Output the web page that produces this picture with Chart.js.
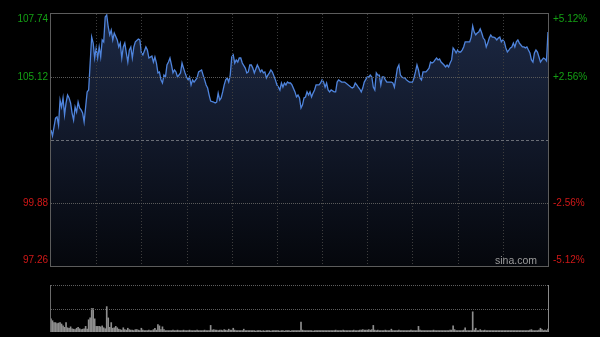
<!DOCTYPE html>
<html>
<head>
<meta charset="utf-8">
<script src="https://cdn.jsdelivr.net/npm/chart.js@4.4.0/dist/chart.umd.min.js"></script>
<style>
  html, body { margin: 0; padding: 0; background: #000; }
  #wrap { position: relative; width: 600px; height: 337px; background: #000; overflow: hidden; }
  canvas { position: absolute; left: 0; }
  #priceChart { top: 0; }
  #volChart { top: 275px; }
</style>
</head>
<body>
<div id="wrap">
  <canvas id="priceChart" width="600" height="275"></canvas>
  <canvas id="volChart" width="600" height="62"></canvas>
</div>
<script>
// ---- data (minutes from open, HK session 330 min) ----
const prevClose = 102.50;
const priceMin = 97.26;
const priceMax = 107.74;
const leftTickValues = [107.74, 105.12, 99.88, 97.26];
const leftTickLabels = ['107.74', '105.12', '99.88', '97.26'];
const rightTickLabels = ['+5.12%', '+2.56%', '-2.56%', '-5.12%'];
const gridMinutes = [30, 60, 90, 120, 150, 180, 210, 240, 270, 300];
const sessionMinutes = 330;

const minutes = [
  0,1,3,4,5,6,7,8,9,10,11,12,13,14,15,16,17,18,19,20,21,22,23,24,25,26,27,28,29,30,
  31,32,33,34,35,36,37,38,39,40,41,42,44,45,46,47,48,49,50,51,52,53,54,55,56,58,59,60,61,63,
  64,65,67,68,69,70,71,72,73,74,75,76,77,78,79,80,81,82,83,84,86,87,88,89,90,91,92,93,94,95,
  97,98,100,101,102,103,104,105,106,108,109,110,111,112,113,114,115,116,117,118,119,120,121,122,123,124,125,126,127,129,
  130,131,132,133,134,135,137,138,139,140,141,142,143,144,145,146,147,149,150,151,152,153,154,155,156,157,158,159,160,162,
  163,164,165,166,167,168,169,170,171,172,173,174,175,176,178,179,180,181,182,183,184,185,186,188,189,190,191,193,195,199,
  200,201,202,203,204,205,206,207,208,210,211,212,213,214,215,216,217,218,219,220,221,222,223,224,226,227,228,229,230,231,
  232,233,234,235,236,237,238,240,241,242,243,244,245,246,247,248,249,250,251,252,253,254,255,256,257,258,259,261,262,263,
  264,265,266,267,268,269,270,271,272,273,274,275,276,278,279,280,281,282,283,284,285,286,287,288,289,290,291,292,293,294,
  295,296,297,298,299,300,301,302,303,304,305,306,307,308,309,310,311,312,313,314,315,316,317,318,319,320,321,322,323,324,
  325,326,327,328,329,330
];
const prices = [
  102.92,102.67,103.41,103.46,103.12,104.16,103.87,104.25,103.54,104.04,104.37,104.25,104.04,103.62,103.33,103.87,103.66,104.08,103.83,103.75,103.62,103.25,103.87,104.50,104.58,105.70,106.78,106.53,105.91,106.33,
  105.91,106.37,105.95,106.66,106.58,107.62,107.70,107.20,106.87,107.07,106.66,106.95,106.66,106.37,106.53,105.91,106.37,106.53,106.12,105.74,106.24,106.37,105.91,106.37,106.58,106.70,106.66,106.12,106.04,106.37,
  106.24,105.91,105.99,105.74,105.95,105.70,105.29,105.33,105.00,104.87,105.20,105.12,105.62,105.74,105.91,105.62,105.29,105.41,105.33,105.12,105.29,105.70,105.49,105.29,105.12,105.00,105.12,104.79,105.00,104.91,
  105.08,105.33,105.41,105.20,105.00,104.79,104.66,104.37,104.12,104.08,104.04,104.08,104.45,104.16,104.25,104.50,104.79,105.00,105.08,104.91,105.20,105.95,106.04,105.70,105.83,105.74,105.91,105.91,105.70,105.49,
  105.29,105.33,105.62,105.62,105.49,105.29,105.62,105.49,105.33,105.41,105.29,105.33,105.08,105.20,105.29,105.41,105.33,105.00,104.79,104.70,104.58,104.87,104.70,104.87,104.79,104.91,104.87,104.87,104.79,104.50,
  104.29,104.37,104.25,103.83,103.96,104.25,104.29,104.50,104.37,104.50,104.29,104.45,104.58,104.79,104.79,104.87,105.00,104.91,104.70,104.87,104.58,104.50,104.58,104.50,104.50,104.91,105.00,104.91,104.91,104.70,
  104.66,104.70,104.87,104.79,104.70,104.62,104.50,104.66,104.91,105.12,105.12,105.20,105.12,104.70,104.58,105.29,105.20,105.20,104.79,105.12,105.12,105.00,104.91,104.91,104.91,104.87,104.70,105.08,105.49,105.62,
  105.20,105.12,105.08,105.08,105.00,104.95,104.91,104.91,105.08,105.33,105.62,105.41,105.08,105.00,105.33,105.33,105.33,105.41,105.49,105.74,105.70,105.74,105.83,105.91,105.83,105.87,105.74,105.62,105.54,105.62,
  105.54,105.70,105.83,106.33,106.24,106.12,106.24,106.16,106.16,106.24,106.37,106.58,106.58,106.58,106.78,107.24,106.99,106.87,106.95,106.99,107.12,106.95,106.74,106.66,106.37,106.53,106.74,106.87,106.78,106.78,
  106.74,106.66,106.74,106.78,106.58,106.66,106.58,106.33,106.16,106.24,106.33,106.37,106.53,106.37,106.58,106.66,106.53,106.45,106.37,106.37,106.33,106.37,106.24,106.12,105.83,105.74,106.12,106.24,106.16,105.95,
  105.74,105.83,105.91,105.87,105.79,106.99
];

// volume per minute (relative units, panel top = 100)
const volumes = [
  28,24,20,20,18,19,20,17,13,10,20,9,8,11,7,6,5,8,10,7,5,6,7,12,6,26,30,50,50,28,
  12,12,12,11,13,9,7,54,30,10,20,8,9,12,9,6,5,4,9,5,4,8,5,4,4,3,5,5,4,3,
  8,4,3,3,3,4,3,3,5,8,4,16,13,5,11,5,3,3,3,3,3,4,3,3,4,3,3,3,4,3,
  3,3,4,3,3,3,3,4,3,3,3,3,4,3,3,3,14,4,5,4,4,3,4,4,3,5,4,3,6,4,
  4,8,4,3,3,3,3,3,6,3,3,3,3,3,3,3,2,3,3,3,2,3,2,3,3,3,2,3,3,3,
  3,3,2,3,3,2,3,3,3,2,3,3,3,3,3,3,21,4,3,3,3,3,3,3,2,3,3,3,3,3,
  3,3,3,3,3,3,3,3,3,4,3,3,3,3,4,3,3,3,3,3,3,4,3,3,3,4,4,5,4,4,
  4,5,4,5,14,4,3,4,3,3,3,3,4,3,3,3,6,3,3,3,3,4,3,3,3,3,3,3,3,4,
  3,3,3,3,12,4,3,3,3,3,3,3,3,3,4,3,3,3,3,3,3,3,3,3,3,4,4,13,5,3,
  3,3,3,3,4,9,3,3,3,3,43,4,8,3,3,5,3,3,4,3,3,3,3,3,3,3,3,3,3,3,
  3,3,3,3,3,3,3,3,3,3,3,3,3,3,3,3,3,3,4,5,3,3,3,3,4,8,5,3,4,3,6
];
const volumeMax = 100;

// ---- styles ----
const FONT = '10px "Liberation Sans", Arial, sans-serif';
const GREEN = '#14a014';
const RED = '#d01818';

const priceFrame = {
  id: 'priceFrame',
  afterDatasetsDraw(chart) {
    const { ctx, chartArea: a, scales: { x, y } } = chart;
    ctx.save();
    ctx.lineWidth = 1;
    // vertical dotted grid
    ctx.strokeStyle = '#3e3e3e';
    ctx.setLineDash([1, 2]);
    gridMinutes.forEach(m => {
      const px = Math.round(x.getPixelForValue(m)) + 0.5;
      ctx.beginPath(); ctx.moveTo(px, a.top); ctx.lineTo(px, a.bottom); ctx.stroke();
    });
    // horizontal dotted grid
    ctx.strokeStyle = '#5a5a5a';
    ctx.setLineDash([1, 1]);
    [leftTickValues[1], leftTickValues[2]].forEach(v => {
      const py = Math.round(y.getPixelForValue(v)) + 0.5;
      ctx.beginPath(); ctx.moveTo(a.left, py); ctx.lineTo(a.right, py); ctx.stroke();
    });
    // previous close dashed
    ctx.strokeStyle = '#6a6e76';
    ctx.setLineDash([3, 2]);
    const pc = Math.round(y.getPixelForValue(prevClose)) + 0.5;
    ctx.beginPath(); ctx.moveTo(a.left, pc); ctx.lineTo(a.right, pc); ctx.stroke();
    // frame
    ctx.setLineDash([]);
    ctx.strokeStyle = '#5c5c5c';
    ctx.strokeRect(a.left - 0.5, a.top - 0.5, a.right - a.left + 1, a.bottom - a.top + 1);
    // tick labels
    ctx.font = FONT;
    ctx.textBaseline = 'middle';
    leftTickValues.forEach((v, i) => {
      let py = y.getPixelForValue(v);
      if (i === 0) py += 5.5;
      if (i === leftTickValues.length - 1) py -= 6;
      ctx.fillStyle = v > prevClose ? GREEN : RED;
      ctx.textAlign = 'right';
      ctx.fillText(leftTickLabels[i], a.left - 3, py);
      ctx.textAlign = 'left';
      ctx.fillText(rightTickLabels[i], a.right + 5, py);
    });
    // watermark
    ctx.fillStyle = '#9c9c9c';
    ctx.font = '10.5px "Liberation Sans", Arial, sans-serif';
    ctx.textAlign = 'right';
    ctx.textBaseline = 'alphabetic';
    ctx.fillText('sina.com', a.right - 11, a.bottom - 2);
    ctx.restore();
  }
};

new Chart(document.getElementById('priceChart'), {
  type: 'line',
  data: {
    datasets: [{
      data: minutes.map((m, i) => ({ x: m, y: prices[i] })),
      borderColor: '#4f84dc',
      borderWidth: 1.3,
      pointRadius: 0,
      tension: 0,
      fill: 'start',
      backgroundColor: (c) => {
        const { chart } = c;
        const area = chart.chartArea;
        if (!area) return '#141c2e';
        const g = chart.ctx.createLinearGradient(0, area.top, 0, area.bottom);
        g.addColorStop(0, '#1c2843');
        g.addColorStop(0.5, '#111829');
        g.addColorStop(1, '#05070c');
        return g;
      }
    }]
  },
  options: {
    responsive: false,
    animation: false,
    devicePixelRatio: 1,
    layout: { padding: { left: 51, right: 52, top: 14, bottom: 9 } },
    plugins: { legend: { display: false }, tooltip: { enabled: false } },
    scales: {
      x: { type: 'linear', min: 0, max: sessionMinutes, display: false },
      y: { min: priceMin, max: priceMax, display: false }
    }
  },
  plugins: [priceFrame]
});

const volFrame = {
  id: 'volFrame',
  afterDatasetsDraw(chart) {
    const { ctx, chartArea: a, scales: { y } } = chart;
    ctx.save();
    ctx.lineWidth = 1;
    ctx.strokeStyle = '#5e5e5e';
    ctx.setLineDash([1, 1]);
    [volumeMax, volumeMax / 2].forEach(v => {
      const py = Math.round(y.getPixelForValue(v)) + 0.5;
      ctx.beginPath(); ctx.moveTo(a.left, py); ctx.lineTo(a.right, py); ctx.stroke();
    });
    ctx.setLineDash([]);
    ctx.strokeStyle = '#6a6a6a';
    ctx.beginPath(); ctx.moveTo(a.left - 0.5, a.top); ctx.lineTo(a.left - 0.5, a.bottom); ctx.stroke();
    ctx.strokeStyle = '#8a8a8a';
    ctx.beginPath(); ctx.moveTo(a.right + 0.5, a.top); ctx.lineTo(a.right + 0.5, a.bottom); ctx.stroke();
    ctx.restore();
  }
};

new Chart(document.getElementById('volChart'), {
  type: 'bar',
  data: {
    datasets: [{
      data: volumes.map((v, i) => ({ x: i, y: v })),
      backgroundColor: '#8e8e8e',
      borderWidth: 0,
      barThickness: 1
    }]
  },
  options: {
    responsive: false,
    animation: false,
    devicePixelRatio: 1,
    layout: { padding: { left: 51, right: 52, top: 10, bottom: 5 } },
    plugins: { legend: { display: false }, tooltip: { enabled: false } },
    scales: {
      x: { type: 'linear', min: 0, max: sessionMinutes, display: false, offset: false },
      y: { min: 0, max: volumeMax, display: false }
    }
  },
  plugins: [volFrame]
});
</script>
</body>
</html>
